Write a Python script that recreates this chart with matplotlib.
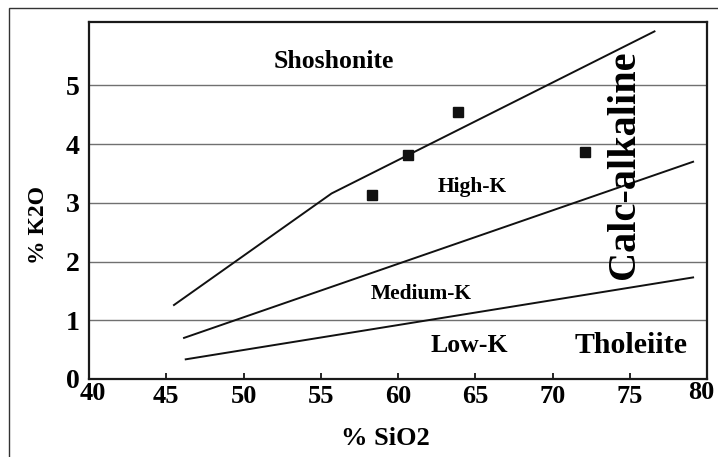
import matplotlib
matplotlib.use("Agg")
import matplotlib.pyplot as plt
import matplotlib.patches as mpatches
import matplotlib.transforms as mtransforms

# boundary lines (SiO2, K2O)
shosh_x = [45.5, 55.7, 76.6]
shosh_y = [1.26, 3.16, 5.92]
highk_x = [46.15, 79.1]
highk_y = [0.70, 3.70]
lowk_x = [46.26, 79.1]
lowk_y = [0.335, 1.73]

# samples
sample_sio2 = [58.3, 60.65, 63.9, 72.1]
sample_k2o = [3.14, 3.81, 4.54, 3.86]

xticks = [40, 45, 50, 55, 60, 65, 70, 75, 80]
yticks = [0, 1, 2, 3, 4, 5]

plt.rcParams['font.family'] = ['Liberation Serif', 'DejaVu Serif']
plt.rcParams['font.weight'] = 'bold'
plt.rcParams['axes.labelweight'] = 'bold'

fig = plt.figure(figsize=(7.18, 4.57), dpi=100)
ax = fig.add_axes([89/718, 78/457, 618/718, 357/457])

# outer frame of the figure
fig.patches.append(mpatches.Rectangle((9/718, -0.1), 1.5, 1.1 - 8/457, transform=fig.transFigure,
                                      fill=False, edgecolor='#333333', lw=1.0))

for y in yticks[1:]:
    ax.axhline(y, color='#707070', lw=1.0, zorder=1)

ax.plot(shosh_x, shosh_y, color='#111111', lw=1.4, zorder=2)
ax.plot(highk_x, highk_y, color='#111111', lw=1.4, zorder=2)
ax.plot(lowk_x, lowk_y, color='#111111', lw=1.4, zorder=2)
ax.plot(sample_sio2, sample_k2o, 's', color='#111111', ms=7, zorder=3)

ax.text(55.84, 5.30, 'Shoshonite', fontsize=18.5, ha='center', va='baseline')
ax.text(64.8, 3.19, 'High-K', fontsize=15.5, ha='center', va='baseline')
ax.text(61.5, 1.37, 'Medium-K', fontsize=15.5, ha='center', va='baseline')
ax.text(64.6, 0.465, 'Low-K', fontsize=18.5, ha='center', va='baseline')
ax.text(75.1, 0.45, 'Tholeiite', fontsize=21.5, ha='center', va='baseline')
ax.text(75.3, 3.65, 'Calc-alkaline', fontsize=29, rotation=90, rotation_mode='anchor',
        ha='center', va='baseline')

ax.set_xlim(40, 80)
ax.set_ylim(0, 6.08)
ax.set_xticks(xticks)
ax.set_yticks(yticks)
ax.tick_params(axis='x', direction='in', length=4, width=1.2, pad=4, labelsize=19)
ax.tick_params(axis='y', length=0, pad=7, labelsize=20)

# end labels sit a little inward and higher, as in the original
xlabels = ax.get_xticklabels()
for lab, dx, dy in [(xlabels[0], 4, 3), (xlabels[-1], -6, 4)]:
    lab.set_transform(lab.get_transform() +
                      mtransforms.ScaledTranslation(dx/100, dy/100, fig.dpi_scale_trans))

for s in ax.spines.values():
    s.set_linewidth(1.6)
    s.set_color('#1a1a1a')

ax.set_xlabel('% SiO2', fontsize=19, va='center')
ax.xaxis.set_label_coords(0.479, -0.168)
ax.set_ylabel('% K2O', fontsize=17, va='center')
ax.yaxis.set_label_coords(-0.081, 0.43)

fig.savefig('out.png', dpi=100)
